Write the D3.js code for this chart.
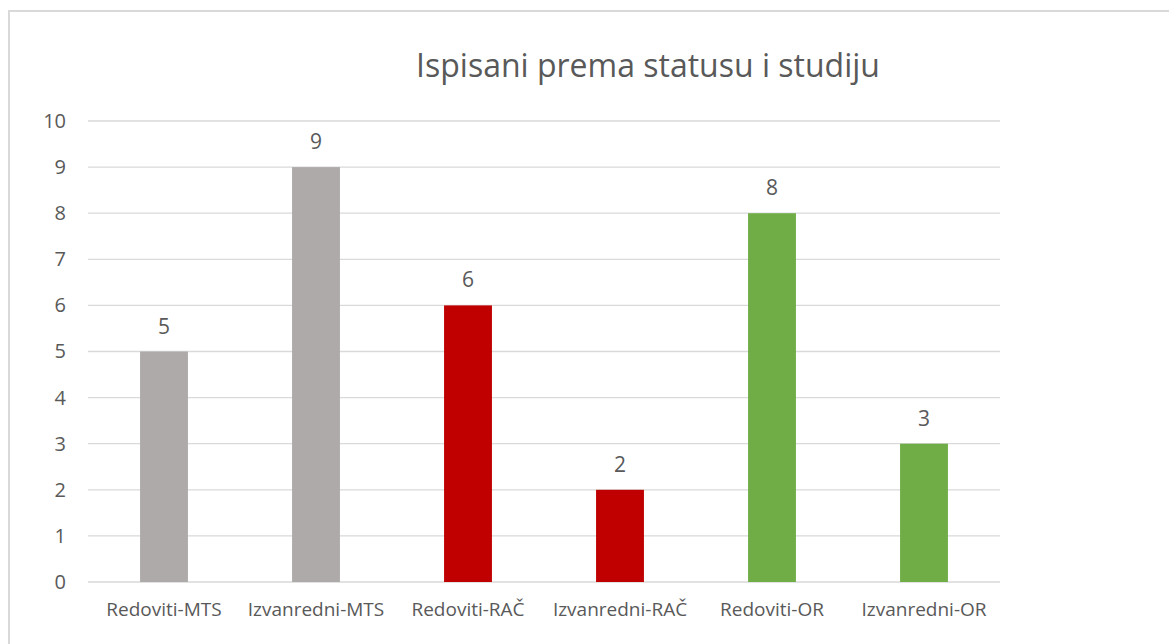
<!DOCTYPE html>
<html>
<head>
<meta charset="utf-8">
<script src="https://cdn.jsdelivr.net/npm/d3@7"></script>
<style>
  body { margin: 0; background: #fff; }
  text { font-family: "Open Sans", "Noto Sans", sans-serif; fill: #595959; }
</style>
</head>
<body>
<div id="chart"></div>
<script>
// Data
const categories = ["Redoviti-MTS", "Izvanredni-MTS", "Redoviti-RAČ", "Izvanredni-RAČ", "Redoviti-OR", "Izvanredni-OR"];
const values = [5, 9, 6, 2, 8, 3];
const barColors = ["#AEAAAA", "#AEAAAA", "#C00000", "#C00000", "#70AD47", "#70AD47"];
const yTicks = [0, 1, 2, 3, 4, 5, 6, 7, 8, 9, 10];
const title = "Ispisani prema statusu i studiju";

const W = 1169, H = 644;
const margin = { top: 121, right: 169, bottom: 62, left: 88 };
const width = W - margin.left - margin.right;
const height = H - margin.top - margin.bottom;

const root = d3.select("#chart")
    .append("svg")
    .attr("width", W)
    .attr("height", H);

// chart area border
root.append("rect")
    .attr("x", 9)
    .attr("y", 11)
    .attr("width", W + 20)
    .attr("height", H + 20)
    .attr("fill", "#fff")
    .attr("stroke", "#d9d9d9")
    .attr("stroke-width", 2);

root.append("text")
    .attr("x", 648)
    .attr("y", 77)
    .attr("text-anchor", "middle")
    .style("font-size", "32px")
    .text(title);

const svg = root.append("g")
    .attr("transform", `translate(${margin.left},${margin.top})`);

const x = d3.scaleBand()
    .domain(categories)
    .range([0, width])
    .paddingInner(0.685)
    .paddingOuter(0.3425);

const y = d3.scaleLinear()
    .domain([0, 10])
    .range([height, 0]);

// gridlines
svg.selectAll(".grid")
    .data(yTicks)
    .enter().append("line")
    .attr("class", "grid")
    .attr("x1", 0)
    .attr("x2", width)
    .attr("y1", d => y(d))
    .attr("y2", d => y(d))
    .attr("stroke", "#d9d9d9")
    .attr("stroke-width", 1.3);

// y axis labels
const yAxis = svg.append("g")
    .call(d3.axisLeft(y).tickValues(yTicks).tickSize(0).tickPadding(22));
yAxis.select(".domain").remove();
yAxis.selectAll("text")
    .attr("fill", "#595959")
    .style("font-family", "'Open Sans', sans-serif")
    .style("font-size", "20px");

// bars
svg.selectAll(".bar")
    .data(categories)
    .enter().append("rect")
    .attr("class", "bar")
    .attr("x", d => x(d))
    .attr("y", (d, i) => y(values[i]))
    .attr("width", x.bandwidth())
    .attr("height", (d, i) => height - y(values[i]))
    .attr("fill", (d, i) => barColors[i]);

// value labels
svg.selectAll(".val")
    .data(categories)
    .enter().append("text")
    .attr("class", "val")
    .attr("x", d => x(d) + x.bandwidth() / 2)
    .attr("y", (d, i) => y(values[i]) - 18)
    .attr("text-anchor", "middle")
    .style("font-size", "21px")
    .text((d, i) => values[i]);

// x axis labels
const xAxis = svg.append("g")
    .attr("transform", `translate(0,${height})`)
    .call(d3.axisBottom(x).tickSize(0).tickPadding(21));
xAxis.select(".domain").remove();
xAxis.selectAll("text")
    .attr("fill", "#595959")
    .style("font-family", "'Open Sans', sans-serif")
    .style("font-size", "19px");
</script>
</body>
</html>
